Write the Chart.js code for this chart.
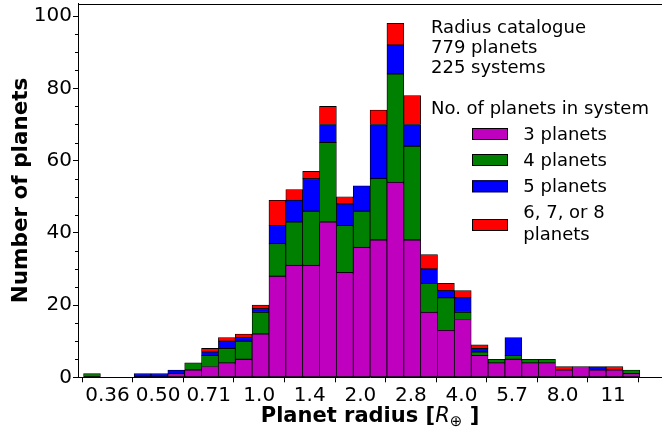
<!DOCTYPE html>
<html>
<head>
<meta charset="utf-8">
<script src="https://cdn.jsdelivr.net/npm/chart.js@4.4.1/dist/chart.umd.min.js"></script>
<style>
  html, body { margin: 0; padding: 0; background: #fff; }
  #wrap { width: 662px; height: 432px; }
</style>
</head>
<body>
<div id="wrap"><canvas id="c" width="662" height="432"></canvas></div>
<script>
// Radius histogram: 33 logarithmic bins (factor 2^(1/6)) starting at 0.3 Earth radii
const binStart = 0.3;
const binsPerDoubling = 6;
const binCount = 33;

// Planet counts per radius bin, split by system multiplicity
const planets3 = [0,0,0,0,0,1,2,3,4,5,12,28,31,31,43,29,36,38,54,38,18,13,16,6,4,5,4,4,2,3,2,2,1];
const planets4 = [1,0,0,0,0,0,2,3,4,5,6,9,12,15,22,13,10,17,30,26,8,9,2,1,1,1,1,1,0,0,0,0,1];
const planets5 = [0,0,0,1,1,1,0,1,2,1,1,5,6,9,5,6,7,15,8,6,4,2,4,1,0,5,0,0,0,0,1,0,0];
const planets6to8 = [0,0,0,0,0,0,0,1,1,1,1,7,3,2,5,2,0,4,6,8,4,2,2,1,0,0,0,0,1,0,0,1,0];

const seriesNames = ['3 planets', '4 planets', '5 planets', '6, 7, or 8\nplanets'];
const seriesColors = ['#bf00bf', '#008000', '#0000ff', '#ff0000'];

// Axis ticks
const xTickRadii = [0.3536, 0.5, 0.7071, 1.0, 1.414, 2.0, 2.828, 4.0, 5.657, 8.0, 11.31];
const xTickLabels = ['0.36', '0.50', '0.71', '1.0', '1.4', '2.0', '2.8', '4.0', '5.7', '8.0', '11'];
const yTicks = [0, 20, 40, 60, 80, 100];
const yMinorTicks = [5, 10, 15, 25, 30, 35, 45, 50, 55, 65, 70, 75, 85, 90, 95];

const infoLines = ['Radius catalogue', '779 planets', '225 systems'];
const legendTitle = 'No. of planets in system';

// geometric bin centres
const binCentres = Array.from({ length: binCount }, (_, k) =>
  binStart * Math.pow(2, (k + 0.5) / binsPerDoubling));
const xMin = binStart * Math.pow(2, -0.33 / binsPerDoubling);
const xMax = binStart * Math.pow(2, 34.32 / binsPerDoubling);

const FONT = '"DejaVu Sans", "Liberation Sans", sans-serif';

function toPoints(values) {
  return values.map((v, i) => ({ x: binCentres[i], y: v }));
}

const seriesValues = [planets3, planets4, planets5, planets6to8];
const datasets = seriesValues.map((vals, i) => ({
  label: seriesNames[i],
  data: toPoints(vals),
  backgroundColor: seriesColors[i],
  borderColor: '#000',
  borderWidth: 0.8,
  borderSkipped: false,
  barPercentage: 1.0,
  categoryPercentage: 1.0,
}));

const decorations = {
  id: 'decorations',
  afterDraw(chart) {
    const { ctx, chartArea } = chart;
    const yScale = chart.scales.y;
    ctx.save();
    // top frame line
    ctx.strokeStyle = '#000';
    ctx.lineWidth = 1;
    ctx.beginPath();
    ctx.moveTo(chartArea.left, Math.round(chartArea.top) + 0.5);
    ctx.lineTo(chartArea.right, Math.round(chartArea.top) + 0.5);
    ctx.stroke();

    // minor y ticks
    ctx.beginPath();
    yMinorTicks.forEach(v => {
      const py = Math.round(yScale.getPixelForValue(v)) + 0.5;
      ctx.moveTo(chartArea.left - 3, py);
      ctx.lineTo(chartArea.left, py);
    });
    ctx.stroke();

    ctx.fillStyle = '#000';
    // y axis title
    ctx.save();
    ctx.translate(27, (chartArea.top + chartArea.bottom) / 2);
    ctx.rotate(-Math.PI / 2);
    ctx.font = 'bold 21.5px ' + FONT;
    ctx.textAlign = 'center';
    ctx.textBaseline = 'alphabetic';
    ctx.fillText('Number of planets', 0, 0);
    ctx.restore();

    // x axis title with R_⊕
    const partA = 'Planet radius [';
    const partR = 'R';
    const partSub = '⊕';
    const partB = ' ]';
    const fBold = 'bold 21px ' + FONT;
    const fItal = 'italic 21px ' + FONT;
    const fSub = '15px ' + FONT;
    ctx.font = fBold; const wA = ctx.measureText(partA).width; const wB = ctx.measureText(partB).width;
    ctx.font = fItal; const wR = ctx.measureText(partR).width;
    ctx.font = fSub; const wS = ctx.measureText(partSub).width;
    const total = wA + wR + wS + wB;
    let x0 = (chartArea.left + chartArea.right) / 2 - total / 2;
    const base = 422;
    ctx.textAlign = 'left';
    ctx.textBaseline = 'alphabetic';
    ctx.font = fBold; ctx.fillText(partA, x0, base); x0 += wA;
    ctx.font = fItal; ctx.fillText(partR, x0, base); x0 += wR;
    ctx.font = fSub; ctx.fillText(partSub, x0, base + 4); x0 += wS;
    ctx.font = fBold; ctx.fillText(partB, x0, base);

    // info text block
    ctx.font = '18px ' + FONT;
    infoLines.forEach((t, i) => ctx.fillText(t, 431, 33.3 + i * 20));
    ctx.fillText(legendTitle, 431, 114.3);

    // legend entries
    const rowsBaseline = [140, 166, 192.3, 218.3];
    chart.data.datasets.forEach((ds, i) => {
      const lines = ds.label.split('\n');
      const boxTop = i < 3 ? rowsBaseline[i] - 12 : 219;
      ctx.fillStyle = ds.backgroundColor;
      ctx.fillRect(472, boxTop, 36, 12);
      ctx.strokeStyle = '#000';
      ctx.lineWidth = 1;
      ctx.strokeRect(472.5, boxTop + 0.5, 35, 11);
      ctx.fillStyle = '#000';
      lines.forEach((ln, j) => ctx.fillText(ln, 523.3, rowsBaseline[i] + j * 21.4));
    });
    ctx.restore();
  }
};

new Chart(document.getElementById('c'), {
  type: 'bar',
  data: { datasets },
  options: {
    responsive: false,
    animation: false,
    events: [],
    layout: { padding: { top: 3.5, right: 0, left: 0, bottom: 0 } },
    plugins: { legend: { display: false }, tooltip: { enabled: false } },
    scales: {
      x: {
        type: 'logarithmic',
        stacked: true,
        offset: false,
        bounds: 'data',
        min: xMin,
        max: xMax,
        afterBuildTicks: s => { s.ticks = xTickRadii.map(v => ({ value: v })); },
        afterFit: s => { s.height = 432 - 377.3; s.paddingLeft = 0; s.paddingRight = 0; },
        ticks: {
          autoSkip: false,
          maxRotation: 0,
          padding: 1,
          color: '#000',
          font: { family: FONT, size: 20 },
          callback: (v, i) => xTickLabels[i],
        },
        grid: { drawOnChartArea: false, tickLength: 5, tickColor: '#000', tickWidth: 1 },
        border: { color: '#000', width: 1, z: 1 },
      },
      y: {
        type: 'linear',
        stacked: true,
        min: 0,
        max: 103.5,
        afterBuildTicks: s => { s.ticks = yTicks.map(v => ({ value: v })); },
        afterFit: s => { s.width = 78; s.paddingTop = 0; s.paddingBottom = 0; },
        ticks: {
          padding: 1,
          color: '#000',
          font: { family: FONT, size: 20 },
          callback: v => String(v),
        },
        grid: { drawOnChartArea: false, tickLength: 5, tickColor: '#000', tickWidth: 1 },
        border: { color: '#000', width: 1, z: 1 },
      },
    },
  },
  plugins: [decorations],
});
</script>
</body>
</html>
